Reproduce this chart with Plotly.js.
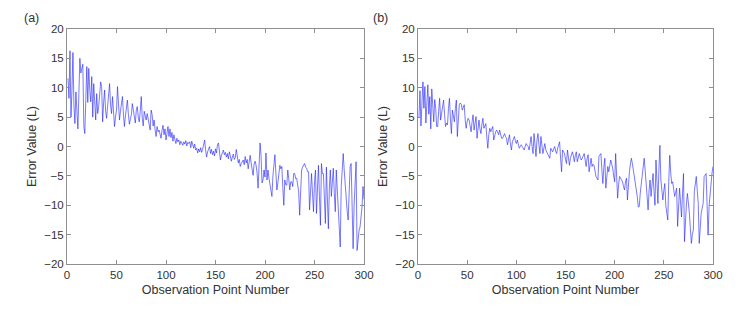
<!DOCTYPE html>
<html>
<head>
<meta charset="utf-8">
<script src="https://cdn.plot.ly/plotly-3.0.1.min.js"></script>
<style>html,body{margin:0;padding:0;background:#fff;}#chart{width:754px;height:313px;}</style>
</head>
<body>
<div id="chart"></div>
<script>
// Observation point numbers start at 1, step 1
const obsStart = 1;
const obsStep = 1;

// Panel (a) error values (L), points 1..300
const errorA = [
 11.6, 8.2, 16.3, 5.0, 9.5, 16.0, 7.0, 3.9, 9.3, 6.5,
 3.0, 9.0, 15.0, 12.5, 13.2, 14.0, 3.4, 2.2, 8.0, 13.6,
 7.5, 13.3, 9.5, 7.6, 11.9, 5.0, 10.7, 7.0, 4.5, 9.0,
 5.6, 6.8, 8.5, 11.0, 10.2, 4.2, 7.5, 9.6, 6.0, 4.8,
 6.8, 8.5, 10.7, 7.0, 5.6, 8.5, 6.0, 3.4, 5.0, 6.2,
 10.2, 6.5, 4.5, 6.0, 7.0, 8.5, 5.5, 3.4, 5.2, 6.5,
 7.9, 5.5, 3.8, 4.6, 5.4, 7.3, 6.0, 5.0, 4.0, 6.2,
 6.8, 5.0, 4.2, 6.0, 8.5, 4.8, 3.5, 6.0, 5.2, 4.5,
 5.6, 4.6, 3.8, 2.8, 6.2, 5.4, 3.5, 4.5, 2.8, 1.7,
 3.4, 2.5, 2.8, 2.2, 1.4, 2.8, 3.6, 2.0, 3.0, 1.1,
 2.3, 3.4, 1.7, 3.0, 1.5, 2.4, 0.9, 2.0, 1.2, 0.5,
 1.4, 0.8, 1.1, 0.3, 0.9, 0.6, 0.2, 0.8, 0.4, 1.0,
 0.1, 0.7, 0.5, 0.8, -0.2, 0.9, 0.3, -0.3, 0.4, -0.6,
 -0.3, -1.1, -0.4, -0.9, -0.2, -1.0, -0.5, 0.3, 1.1, -0.6,
 -1.8, -0.9, -0.3, 0.0, -1.2, -0.5, -1.4, -0.8, -1.6, -0.4,
 -1.1, 0.3, 0.6, -1.0, -2.3, -1.5, -0.8, -0.6, -1.4, -1.0,
 -1.8, -1.2, -2.1, -0.9, -1.6, -2.5, -1.8, -1.3, -2.2, -1.9,
 -0.5, -2.0, -2.8, -2.2, -3.4, -2.9, -2.5, -2.3, -3.1, -1.7,
 -2.8, -2.2, -3.8, -2.6, -1.5, -2.8, -3.6, -4.9, -3.0, -2.5,
 -3.2, -4.5, -7.1, -3.5, 0.6, -1.5, -6.2, -5.7, -4.0, -5.2,
 -1.1, -5.7, -4.0, -5.4, -6.5, -7.5, -8.5, -5.0, -3.4, -1.4,
 -4.5, -7.4, -6.2, -4.5, -3.2, -3.8, -3.4, -7.0, -10.0, -5.7,
 -6.5, -6.6, -4.0, -5.5, -7.4, -6.0, -6.0, -6.8, -4.6, -4.6,
 -5.5, -5.4, -6.5, -7.7, -11.7, -7.5, -4.0, -3.5, -3.2, -2.9,
 -3.5, -3.7, -4.3, -4.3, -10.8, -7.0, -4.6, -8.0, -11.1, -6.0,
 -4.0, -11.4, -7.0, -3.2, -8.5, -13.4, -2.9, -4.6, -4.6, -9.0,
 -13.1, -3.5, -9.0, -14.0, -7.0, -4.0, -8.5, -6.0, -3.7, -8.0,
 -11.1, -4.0, -8.0, -11.9, -14.5, -17.1, -6.8, -3.0, -1.2, -4.0,
 -6.8, -9.7, -11.0, -12.5, -8.0, -3.4, -2.9, -10.0, -17.4, -10.0,
 -6.8, -2.6, -17.7, -15.0, -14.3, -13.7, -12.0, -10.3, -6.8, -9.0
];

// Panel (b) error values (L), points 1..300
const errorB = [
 5.0, 9.5, 3.5, 8.0, 11.0, 6.5, 10.2, 4.0, 9.0, 10.5,
 5.5, 8.5, 3.0, 9.8, 7.0, 4.2, 8.0, 6.5, 3.4, 3.4,
 6.0, 8.2, 4.5, 5.5, 6.5, 7.9, 5.5, 3.4, 4.0, 3.7,
 6.5, 8.2, 4.5, 2.2, 6.2, 5.0, 4.2, 6.5, 7.9, 1.7,
 4.5, 7.1, 7.4, 7.2, 6.2, 6.8, 7.1, 4.5, 3.1, 4.3,
 4.8, 4.5, 3.5, 2.5, 4.2, 5.4, 2.8, 4.0, 5.1, 1.4,
 3.0, 4.5, 3.0, 2.2, 3.8, 4.8, 3.1, 3.5, 3.9, 1.5,
 -0.3, 2.0, 3.1, 2.5, 3.0, 3.4, 1.1, 2.0, 2.5, 2.8,
 2.4, 2.0, 2.8, 2.0, 1.4, 1.4, 2.0, 2.2, 1.7, 1.4,
 0.3, 1.2, 2.0, 0.5, -0.6, 0.8, 1.2, 1.7, 1.0, 0.5,
 1.1, 0.4, -0.3, 0.0, 0.3, 0.0, -0.3, -0.6, 0.0, 0.5,
 0.2, 0.0, -0.6, 0.5, 1.7, 0.0, -1.2, 2.2, 0.5, -1.7,
 1.1, 2.2, 0.3, -1.2, 1.7, 0.2, -1.2, -0.3, 0.5, -0.6,
 -0.9, -1.4, -1.7, -2.0, -0.3, -0.6, -0.9, -0.4, 0.0, -0.8,
 -1.2, -0.3, 0.2, 0.8, -2.0, -4.3, -0.6, -0.9, -1.2, -2.2,
 -2.9, -0.6, -1.8, -3.2, -2.0, -1.2, -0.9, -1.6, -2.6, -1.5,
 -0.9, -2.6, -1.8, -1.2, -1.8, -2.3, -2.0, -1.6, -1.2, -2.3,
 -3.4, -2.0, -1.4, -4.3, -3.0, -2.0, -3.4, -3.0, -3.2, -4.5,
 -5.1, -5.4, -5.7, -1.7, -1.4, -1.2, -4.0, -6.3, -3.5, -2.0,
 -7.1, -5.0, -3.4, -4.3, -3.5, -2.3, -3.0, -3.7, -5.0, -6.0,
 -1.2, -5.0, -8.8, -6.5, -5.1, -5.4, -5.7, -6.0, -6.8, -7.4,
 -6.0, -5.4, -9.1, -6.0, -4.3, -3.0, -2.0, -2.9, -4.0, -5.1,
 -6.0, -7.1, -8.5, -10.3, -10.2, -8.0, -6.5, -4.0, -2.6, -2.0,
 -4.0, -6.3, -8.5, -10.8, -7.5, -5.7, -8.5, -6.0, -4.6, -7.5,
 -10.0, -2.3, -6.0, -9.7, -4.0, 0.2, -5.7, -7.5, -9.1, -7.5,
 -6.3, -10.0, -11.3, -12.5, -6.0, -1.5, -4.5, -6.3, -6.0, -7.3,
 -8.5, -7.8, -7.1, -13.6, -10.0, -7.1, -9.5, -12.0, -8.0, -4.6,
 -16.2, -12.5, -9.7, -8.0, -9.5, -11.4, -14.0, -16.5, -15.0, -14.2,
 -7.7, -6.0, -5.1, -7.5, -9.7, -16.5, -13.0, -11.4, -10.5, -9.7,
 -5.1, -4.8, -4.6, -10.0, -15.1, -10.2, -8.0, -5.7, -4.5, -3.4
];

const panelLabels = ['(a)', '(b)'];
const xTitle = 'Observation Point Number';
const yTitle = 'Error Value (L)';
const xTickVals = [0, 50, 100, 150, 200, 250, 300];
const yTickVals = [-20, -15, -10, -5, 0, 5, 10, 15, 20];

const W = 754, H = 313;
const lineColor = 'rgb(30,30,255)';
const axisColor = '#8f8f8f';
const textColor = '#333333';
const fontFam = 'Liberation Sans, Arial, Helvetica, sans-serif';

const traces = [
  {type: 'scatter', mode: 'lines', x0: obsStart, dx: obsStep, y: errorA,
   line: {color: lineColor, width: 0.6}, xaxis: 'x', yaxis: 'y', hoverinfo: 'skip'},
  {type: 'scatter', mode: 'lines', x0: obsStart, dx: obsStep, y: errorB,
   line: {color: lineColor, width: 0.6}, xaxis: 'x2', yaxis: 'y2', hoverinfo: 'skip'}
];

function xAx(domain, anchor) {
  return {
    domain: domain, anchor: anchor, range: [0, 300], tickvals: xTickVals,
    ticks: 'inside', ticklen: 4, tickcolor: axisColor, tickwidth: 1,
    showline: true, linecolor: axisColor, linewidth: 1, mirror: 'ticks',
    showgrid: false, zeroline: false,
    tickfont: {family: fontFam, size: 11.5, color: textColor},
    title: {text: xTitle, font: {family: fontFam, size: 12.5, color: textColor}, standoff: 5},
    automargin: false
  };
}
function yAx(anchor) {
  return {
    domain: [0, 1], anchor: anchor, range: [-20, 20], tickvals: yTickVals,
    ticks: 'inside', ticklen: 4, tickcolor: axisColor, tickwidth: 1,
    showline: true, linecolor: axisColor, linewidth: 1, mirror: 'ticks',
    showgrid: false, zeroline: false,
    tickfont: {family: fontFam, size: 11.5, color: textColor},
    title: {text: yTitle, font: {family: fontFam, size: 12.5, color: textColor}, standoff: 4},
    automargin: false
  };
}

const layout = {
  width: W, height: H,
  margin: {l: 0, r: 0, t: 29, b: 49, pad: 0},
  paper_bgcolor: '#ffffff', plot_bgcolor: '#ffffff',
  showlegend: false,
  xaxis: xAx([67 / W, 364 / W], 'y'),
  yaxis: yAx('x'),
  xaxis2: xAx([418 / W, 713 / W], 'y2'),
  yaxis2: yAx('x2'),
  annotations: [
    {text: panelLabels[0], xref: 'paper', yref: 'paper', x: 31 / W, y: 1 + 11 / 235,
     xanchor: 'center', yanchor: 'middle', showarrow: false,
     font: {family: fontFam, size: 12.5, color: textColor}},
    {text: panelLabels[1], xref: 'paper', yref: 'paper', x: 380 / W, y: 1 + 11 / 235,
     xanchor: 'center', yanchor: 'middle', showarrow: false,
     font: {family: fontFam, size: 12.5, color: textColor}}
  ]
};

Plotly.newPlot('chart', traces, layout, {staticPlot: true, displayModeBar: false});
</script>
</body>
</html>
